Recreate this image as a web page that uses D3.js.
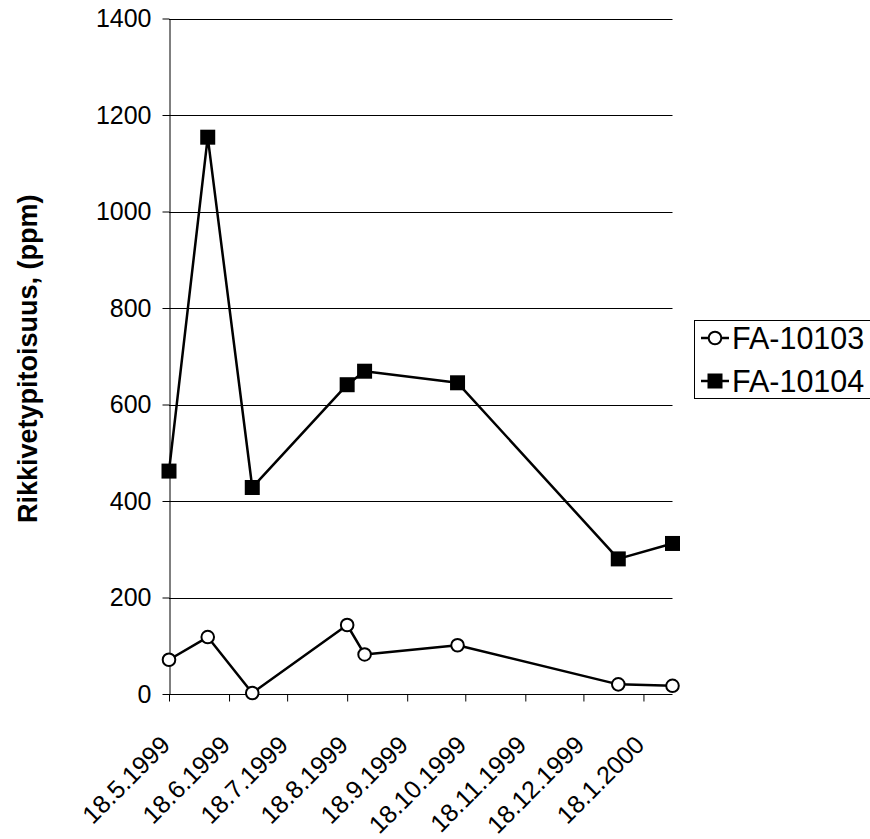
<!DOCTYPE html>
<html>
<head>
<meta charset="utf-8">
<script src="https://cdn.jsdelivr.net/npm/d3@7"></script>
<style>
  html, body { margin: 0; padding: 0; background: #fff; }
  svg { display: block; font-family: "Liberation Sans", Arial, sans-serif; }
</style>
</head>
<body>
<svg id="chart" width="870" height="839"></svg>
<script>
// Sampling dates (d.m.yyyy)
const sampleDates = ["18.5.1999", "7.6.1999", "30.6.1999", "18.8.1999", "27.8.1999", "14.10.1999", "5.1.2000", "2.2.2000"];
// Hydrogen sulphide content, ppm
const fa10103 = [71, 118, 2, 143, 82, 101, 20, 17];
const fa10104 = [462, 1154, 428, 641, 669, 645, 280, 312];
const seriesNames = ["FA-10103", "FA-10104"];
// Axis ticks
const yTicks = [0, 200, 400, 600, 800, 1000, 1200, 1400];
const xTickLabels = ["18.5.1999", "18.6.1999", "18.7.1999", "18.8.1999", "18.9.1999", "18.10.1999", "18.11.1999", "18.12.1999", "18.1.2000"];
const yTitle = "Rikkivetypitoisuus, (ppm)";

const parse = d3.timeParse("%d.%m.%Y");
const dates = sampleDates.map(parse);
const tickDates = xTickLabels.map(parse);

const svg = d3.select("#chart");
const plot = { left: 169, right: 672.5, top: 18.5, bottom: 694 };

const x = d3.scaleTime()
  .domain([dates[0], dates[dates.length - 1]])
  .range([plot.left, plot.right]);
const y = d3.scaleLinear().domain([0, 1400]).range([plot.bottom, plot.top]);

// Horizontal gridlines
svg.append("g")
  .selectAll("line")
  .data(yTicks.filter(v => v > 0))
  .join("line")
  .attr("x1", plot.left).attr("x2", plot.right)
  .attr("y1", d => Math.round(y(d)) + 0.5).attr("y2", d => Math.round(y(d)) + 0.5)
  .attr("stroke", "#000").attr("stroke-width", 1);

// Y axis
const yAxis = svg.append("g")
  .attr("transform", `translate(${Math.round(plot.left) + 0.5},0)`)
  .call(d3.axisLeft(y).tickValues(yTicks).tickFormat(d3.format("d"))
    .tickSize(7).tickPadding(11).tickSizeOuter(0));
yAxis.select(".domain").attr("stroke", "#000");
yAxis.selectAll(".tick line").attr("stroke", "#000");
yAxis.selectAll(".tick text")
  .attr("font-size", 25).attr("fill", "#000")
  .attr("font-family", "Liberation Sans, Arial, sans-serif");

// X axis
const xAxis = svg.append("g")
  .attr("transform", `translate(0,${Math.round(plot.bottom) + 0.5})`)
  .call(d3.axisBottom(x).tickValues(tickDates).tickSize(7).tickSizeOuter(0).tickFormat((d, i) => xTickLabels[i]));
xAxis.select(".domain").attr("stroke", "#000").attr("d", `M${plot.left},0H${plot.right}`);
xAxis.selectAll(".tick line").attr("stroke", "#000");
xAxis.selectAll(".tick text")
  .attr("font-size", 25).attr("fill", "#000")
  .attr("font-family", "Liberation Sans, Arial, sans-serif")
  .attr("text-anchor", "end")
  .attr("y", 0).attr("dy", 0)
  .attr("transform", "translate(2,52) rotate(-45)");

// Y axis title
svg.append("text")
  .attr("transform", "translate(37,523) rotate(-90)")
  .attr("text-anchor", "start")
  .attr("font-size", 27).attr("font-weight", "bold")
  .text(yTitle);

// Series lines and markers
const series = [
  { name: seriesNames[0], values: fa10103, marker: "circle" },
  { name: seriesNames[1], values: fa10104, marker: "square" }
];
const line = d3.line().x((d, i) => x(dates[i])).y(d => y(d));

function drawMarker(g, type, cx, cy) {
  if (type === "circle") {
    g.append("circle").attr("cx", cx).attr("cy", cy).attr("r", 6.3)
      .attr("fill", "#fff").attr("stroke", "#000").attr("stroke-width", 2);
  } else {
    g.append("rect").attr("x", cx - 7.5).attr("y", cy - 7.5).attr("width", 15).attr("height", 15)
      .attr("fill", "#000");
  }
}

series.forEach(s => {
  const g = svg.append("g");
  g.append("path").datum(s.values).attr("d", line)
    .attr("fill", "none").attr("stroke", "#000").attr("stroke-width", 2.5)
    .attr("stroke-linejoin", "round");
  s.values.forEach((v, i) => drawMarker(g, s.marker, x(dates[i]), y(v)));
});

// Legend
const legend = svg.append("g");
legend.append("rect").attr("x", 694.5).attr("y", 320.5).attr("width", 180).attr("height", 78)
  .attr("fill", "#fff").attr("stroke", "#000").attr("stroke-width", 1);
series.forEach((s, i) => {
  const cy = 338 + i * 43;
  legend.append("line").attr("x1", 701).attr("x2", 729).attr("y1", cy).attr("y2", cy)
    .attr("stroke", "#000").attr("stroke-width", 2.5);
  drawMarker(legend, s.marker, 715, cy);
  legend.append("text").attr("x", 732).attr("y", cy).attr("dy", "0.36em")
    .attr("font-size", 30.5).text(s.name);
});
</script>
</body>
</html>
